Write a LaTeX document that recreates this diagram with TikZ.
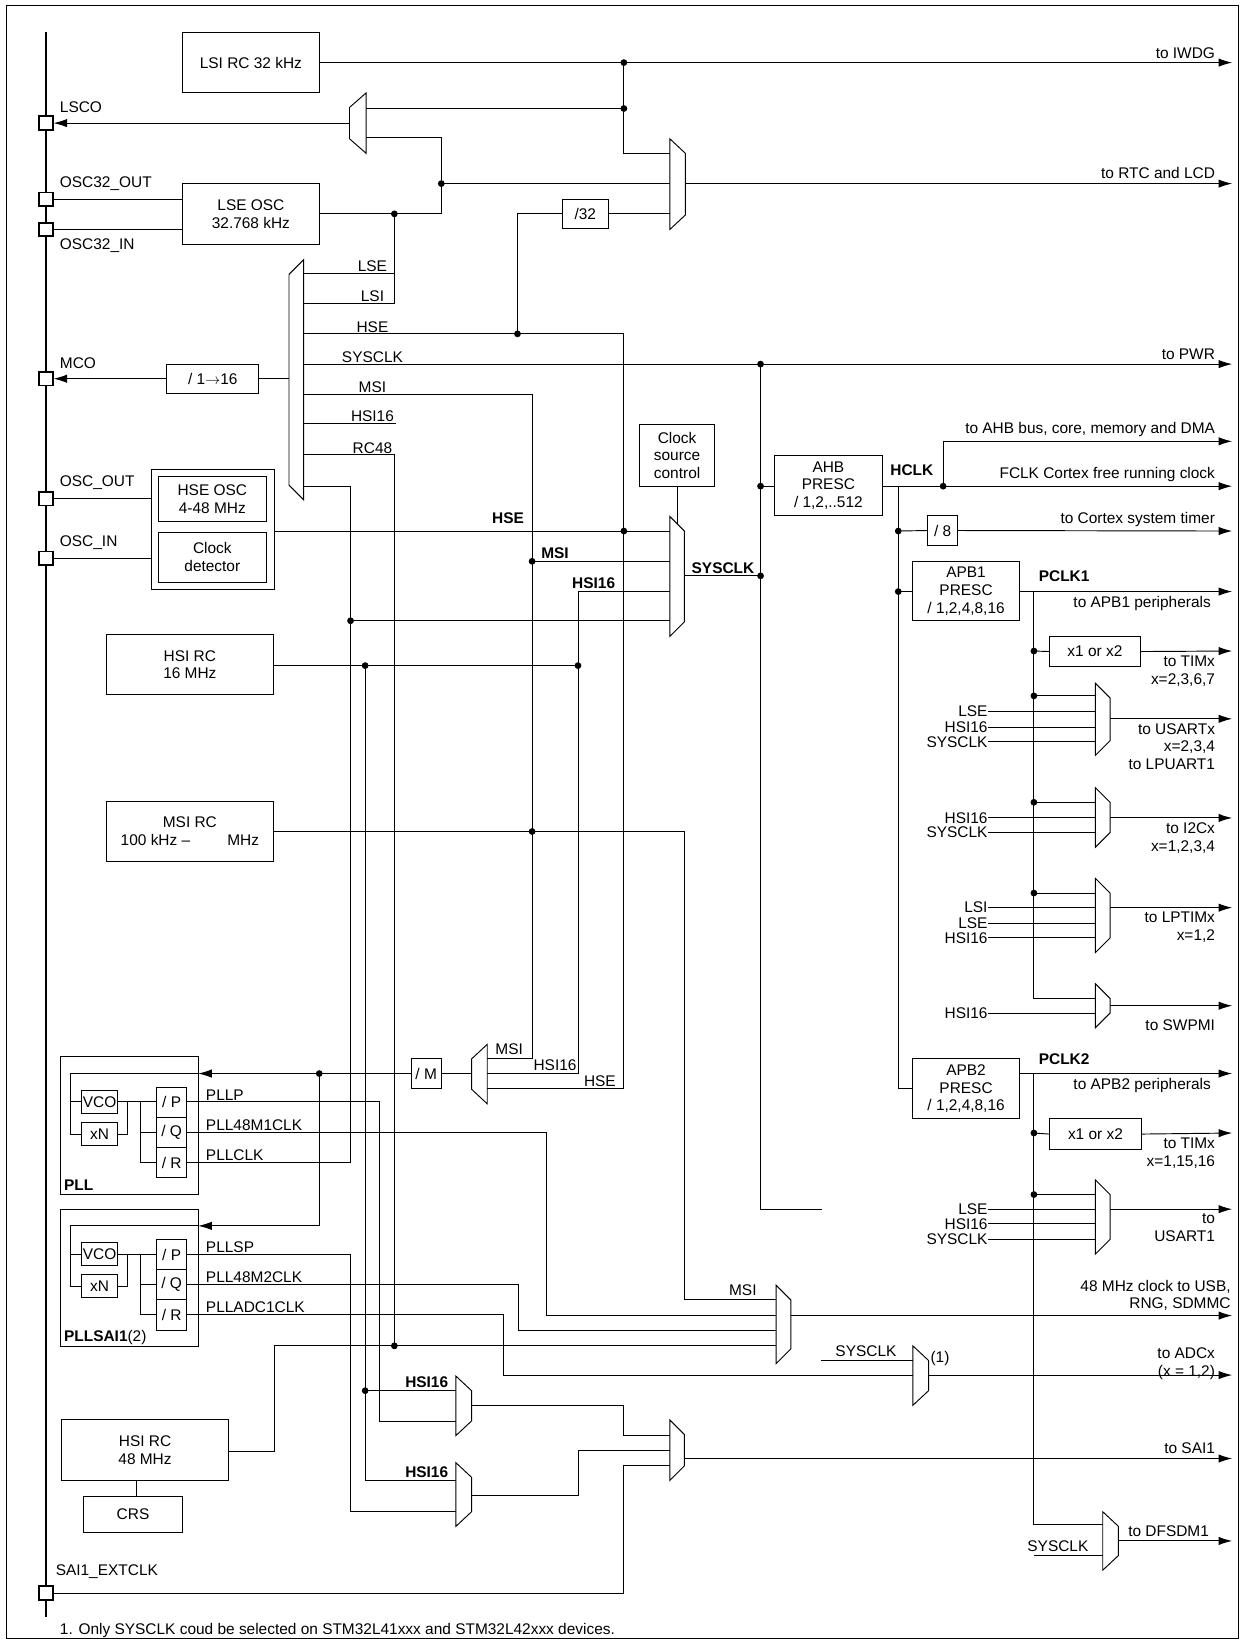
\documentclass[tikz,border=0pt]{standalone}
\usepackage{fontspec}
\setmainfont{Liberation Sans}
\usetikzlibrary{arrows.meta}
\newcommand{\fs}{\fontsize{14.8}{17}\selectfont}
\tikzset{
  blk/.style={draw, align=center, inner sep=0pt},
  lbl/.style={inner sep=1pt, font=\fs},
  bl/.style={inner sep=1pt, font=\fs\bfseries},
  dot/.style={circle, fill, inner sep=0pt, minimum size=6.5pt},
  pin/.style={draw, line width=1.6pt, fill=white, minimum size=13pt, inner sep=0pt},
  arr/.style={-{Latex[length=13pt,width=8pt]}},
}
% box from two corners
\newcommand{\blk}[6]{\node[blk, font=\fs, minimum width={(#4)-(#2)}, minimum height={(#5)-(#3)}] (#1) at ({((#2)+(#4))/2},{((#3)+(#5))/2}) {#6};}
% mux, inputs on the left / on the right
\newcommand{\muxr}[4]{\draw (#1,#3) -- (#2,#3+14) -- (#2,#4-14) -- (#1,#4) -- cycle;}
\newcommand{\muxl}[4]{\draw (#2,#3) -- (#1,#3+14) -- (#1,#4-14) -- (#2,#4) -- cycle;}
\begin{document}
\begin{tikzpicture}[x=1pt, y=-1pt, line width=0.9pt, every node/.style={lbl}]
  \useasboundingbox (0,0) rectangle (1190,1571);
  \draw (6,5) rectangle (1187,1570);
  % Pins
  \draw[line width=2.6pt] (44,31) -- (44,1550);
  \node[pin] (lsco) at (44,118) {};
  \node[pin] (o32out) at (44,191) {};
  \node[pin] (o32in) at (44,220) {};
  \node[pin] (mco) at (44,363) {};
  \node[pin] (oscout) at (44,478) {};
  \node[pin] (oscin) at (44,535) {};
  \node[pin] (extclk) at (44,1527) {};
  \node[anchor=west] at (56,103) {LSCO};
  \node[anchor=west] at (56,176) {OSC32\_OUT};
  \node[anchor=west] at (56,235) {OSC32\_IN};
  \node[anchor=west] at (56,348) {MCO};
  \node[anchor=west] at (56,463) {OSC\_OUT};
  \node[anchor=west] at (56,520) {OSC\_IN};
  \node[anchor=west] at (52,1506) {SAI1\_EXTCLK};
  % Boxes
  \blk{lsi}{175}{31}{306}{89}{LSI RC 32 kHz}
  \blk{lse}{175}{176}{306}{234}{LSE OSC\\32.768 kHz}
  \blk{div32}{539}{191}{583}{219}{/32}
  \blk{mcodiv}{160}{349}{248}{377}{/ 1$\rightarrow$16}
  \draw (145,450) rectangle (263,565);
  \blk{hse}{152}{457}{255}{500}{HSE OSC\\4-48 MHz}
  \blk{ckdet}{152}{510}{255}{558}{Clock\\detector}
  \blk{csc}{613}{407}{685}{466}{Clock\\source\\control}
  \blk{hsi16}{102}{608}{262}{666}{HSI RC\\16 MHz}
  \blk{msi}{102}{768}{262}{826}{MSI RC\\100 kHz --\hspace{2.4em}MHz}
  \blk{divm}{394}{1015}{423}{1043}{/ M}
  \blk{hsi48}{59}{1361}{219}{1419}{HSI RC\\48 MHz}
  \blk{crs}{80}{1434}{175}{1469}{CRS}
  \blk{ahb}{742}{437}{846}{494}{AHB\\PRESC\\/ 1,2,..512}
  \blk{div8}{889}{494}{918}{523}{/ 8}
  \blk{apbone}{875}{538}{977}{595}{APB1\\PRESC\\/ 1,2,4,8,16}
  \blk{timone}{1006}{610}{1093}{639}{x1 or x2}
  \blk{apbtwo}{875}{1015}{977}{1072}{APB2\\PRESC\\/ 1,2,4,8,16}
  \blk{timtwo}{1006}{1072}{1094}{1102}{x1 or x2}
  % PLL blocks
  \foreach \o/\n in {0/pll,146/sai} {
    \draw (58,1013+\o) rectangle (190,1145+\o);
    \blk{\n vco}{78}{1045+\o}{113}{1067+\o}{VCO}
    \blk{\n xn}{78}{1076+\o}{113}{1098+\o}{xN}
    \blk{\n p}{150}{1042+\o}{179}{1071+\o}{/ P}
    \blk{\n q}{150}{1071+\o}{179}{1100+\o}{/ Q}
    \blk{\n r}{150}{1100+\o}{179}{1129+\o}{/ R}
    \draw (190,1029+\o) -- (68,1029+\o) -- (68,1087+\o) -- (78,1087+\o);
    \draw (68,1056+\o) -- (78,1056+\o);
    \draw (113,1056+\o) -- (150,1056+\o);
    \draw (113,1087+\o) -- (122,1087+\o) -- (122,1056+\o);
    \draw (135,1056+\o) -- (135,1114+\o) -- (150,1114+\o);
    \draw (135,1085+\o) -- (150,1085+\o);
  }
  \node[bl, anchor=west] at (60,1136) {PLL};
  \node[anchor=west] at (60,1282) {\textbf{PLLSAI1}(2)};
  % Muxes
  \muxl{335}{351}{89}{147}
  \muxl{277}{291}{249}{479}
  \muxr{642}{657}{133}{220}
  \muxr{642}{656}{495}{610}
  \muxl{452}{467}{1001}{1058}
  \muxr{744}{758}{1232}{1307}
  \muxr{875}{890}{1290}{1347}
  \muxr{437}{452}{1319}{1376}
  \muxr{437}{452}{1402}{1463}
  \muxr{642}{656}{1361}{1419}
  \muxr{1050}{1064}{655}{724}
  \muxr{1050}{1064}{755}{812}
  \muxr{1050}{1064}{842}{913}
  \muxr{1050}{1064}{943}{985}
  \muxr{1050}{1064}{1131}{1202}
  \muxr{1057}{1072}{1449}{1505}
  % LSI / LSE
  \draw[arr] (lsi.east |- 0,60) -- (1181,60);
  \draw (598,60) -- (598,147) -- (642,147);
  \draw (598,104) -- (351,104);
  \draw[arr] (335,118) -- (lsco.east);
  \draw (o32out.east) -- (lse.west |- o32out);
  \draw (o32in.east) -- (lse.west |- o32in);
  \draw (lse.east |- 0,205) -- (423,205) -- (423,132) -- (351,132);
  \draw (423,176) -- (642,176);
  \draw[arr] (657,176) -- (1181,176);
  \draw (378,205) -- (378,291) -- (291,291);
  \draw (378,262) -- (291,262);
  \draw (496,320) -- (496,205) -- (div32.west);
  \draw (div32.east) -- (642,205);
  % MCO mux inputs
  \draw (291,320) -- (598,320) -- (598,1043) -- (467,1043);
  \draw[arr] (291,349) -- (1181,349);
  \draw (729,349) -- (729,1159) -- (788,1159);
  \draw (291,378) -- (510,378) -- (510,1015) -- (467,1015);
  \draw (291,406) -- (380,406);
  \draw (291,436) -- (378,436) -- (378,1290);
  \draw (291,466) -- (336,466) -- (336,1114) -- (179,1114);
  \draw (336,595) -- (642,595);
  \draw (277,363) -- (mcodiv.east);
  \draw[arr] (mcodiv.west) -- (mco.east);
  \foreach \y/\t in {262/LSE,291/LSI,320/HSE,349/SYSCLK,378/MSI,406/HSI16,436/RC48}
    \node[anchor=south] at (357,\y) {\t};
  % HSE / SYSCLK mux
  \draw (oscout.east) -- (145,478);
  \draw (oscin.east) -- (145,535);
  \draw (263,509) -- (642,509);
  \draw (510,538) -- (642,538);
  \draw (hsi16.east |- 0,638) -- (554,638) -- (554,567) -- (642,567);
  \draw (554,638) -- (554,1029) -- (467,1029);
  \draw (350,638) -- (350,1419) -- (437,1419);
  \draw (350,1333) -- (437,1333);
  \draw (656,552) -- (729,552);
  \draw (csc.south -| 649,0) -- (649,502);
  \draw (msi.east |- 0,797) -- (656,797) -- (656,1246) -- (744,1246);
  \node[bl] at (487,497) {HSE};
  \node[bl] at (532,530) {MSI};
  \node[bl] at (569,559) {HSI16};
  \node[bl] at (693,545) {SYSCLK};
  % PLL inputs and outputs
  \draw (452,1029) -- (divm.east);
  \draw[arr] (divm.west) -- (190,1029);
  \draw[arr] (306,1029) -- (306,1175) -- (190,1175);
  \node at (488,1006) {MSI};
  \node at (532,1021) {HSI16};
  \node at (575,1036) {HSE};
  \draw (179,1056) -- (364,1056) -- (364,1362) -- (437,1362);
  \draw (179,1085) -- (524,1085) -- (524,1261) -- (744,1261);
  \draw (179,1202) -- (336,1202) -- (336,1449) -- (437,1449);
  \draw (179,1231) -- (497,1231) -- (497,1275) -- (744,1275);
  \draw (179,1260) -- (483,1260) -- (483,1318) -- (875,1318);
  \foreach \y/\t in {1056/PLLP,1085/PLL48M1CLK,1114/PLLCLK,1202/PLLSP,1231/PLL48M2CLK,1260/PLLADC1CLK}
    \node[anchor=south west] at (196,\y) {\t};
  \draw (hsi48.east |- 0,1391) -- (263,1391) -- (263,1290) -- (744,1290);
  \draw (131,1419) -- (131,1434);
  \node at (712,1237) {MSI};
  \draw[arr] (758,1261) -- (1181,1261);
  \draw (787,1304) -- (875,1304);
  \node at (830,1295) {SYSCLK};
  \node at (901,1302) {(1)};
  \draw[arr] (890,1318) -- (1181,1318);
  % SAI1
  \draw (452,1347) -- (598,1347) -- (598,1376) -- (642,1376);
  \draw (452,1433) -- (554,1433) -- (554,1390) -- (642,1390);
  \draw (extclk.east) -- (598,1527) -- (598,1405) -- (642,1405);
  \draw[arr] (656,1398) -- (1181,1398);
  \node[bl] at (409,1325) {HSI16};
  \node[bl] at (409,1411) {HSI16};
  % AHB / APB
  \draw (729,466) -- (ahb.west |- 0,466);
  \draw[arr] (ahb.east |- 0,466) -- (1181,466);
  \draw[arr] (904,466) -- (904,423) -- (1181,423);
  \draw (861,466) -- (861,1043) -- (apbtwo.west |- 0,1043);
  \draw (861,509) -- (div8.west);
  \draw[arr] (div8.east) -- (1181,509);
  \draw (861,567) -- (apbone.west |- 0,567);
  \draw[arr] (apbone.east |- 0,567) -- (1181,567);
  \draw (991,567) -- (991,957) -- (1050,957);
  \draw (991,624) -- (timone.west);
  \draw[arr] (timone.east) -- (1181,624);
  \foreach \y in {667,769,856} \draw (991,\y) -- (1050,\y);
  \foreach \y/\t in {682/LSE,697/HSI16,711/SYSCLK,784/HSI16,798/SYSCLK,870/LSI,885/LSE,899/HSI16,971/HSI16,1159/LSE,1173/HSI16,1188/SYSCLK}
    \draw (1050,\y) -- (947,\y) node[anchor=east, inner sep=0pt] {\t};
  \draw[arr] (1064,689) -- (1181,689);
  \draw[arr] (1064,784) -- (1181,784);
  \draw[arr] (1064,870) -- (1181,870);
  \draw[arr] (1064,964) -- (1181,964);
  \draw[arr] (apbtwo.east |- 0,1029) -- (1181,1029);
  \draw (991,1029) -- (991,1461) -- (1057,1461);
  \draw (991,1086) -- (timtwo.west);
  \draw[arr] (timtwo.east) -- (1181,1086);
  \draw (991,1145) -- (1050,1145);
  \draw[arr] (1064,1159) -- (1181,1159);
  \draw (991,1491) -- (1057,1491);
  \node at (1014,1482) {SYSCLK};
  \draw[arr] (1072,1477) -- (1181,1477);
  \node[bl] at (874,451) {HCLK};
  \node[bl] at (1020,552) {PCLK1};
  \node[bl] at (1020,1015) {PCLK2};
  % Junctions
  \foreach \p in {(598,60),(598,104),(378,205),(423,176),(496,320),(729,349),(598,509),(510,538),(336,595),(350,638),(554,638),(510,797),(306,1029),(378,1290),(350,1333),(729,466),(729,552),(904,466),(861,509),(861,567),(991,624),(991,667),(991,769),(991,856),(991,1086),(991,1145)}
    \node[dot] at \p {};
  % Output labels
  \node[anchor=south east] at (1166,58) {to IWDG};
  \node[anchor=south east] at (1166,173) {to RTC and LCD};
  \node[anchor=south east] at (1166,346) {to PWR};
  \node[anchor=south east] at (1166,420) {to AHB bus, core, memory and DMA};
  \node[anchor=south east] at (1166,463) {FCLK Cortex free running clock};
  \node[anchor=south east] at (1166,506) {to Cortex system timer};
  \node[anchor=north east] at (1162,570) {to APB1 peripherals};
  \node[anchor=north east, align=right] at (1166,627) {to TIMx\\x=2,3,6,7};
  \node[anchor=north east, align=right] at (1166,692) {to USARTx\\x=2,3,4\\to LPUART1};
  \node[anchor=north east, align=right] at (1166,787) {to I2Cx\\x=1,2,3,4};
  \node[anchor=north east, align=right] at (1166,873) {to LPTIMx\\x=1,2};
  \node[anchor=north east] at (1166,976) {to SWPMI};
  \node[anchor=north east] at (1162,1032) {to APB2 peripherals};
  \node[anchor=north east, align=right] at (1166,1089) {to TIMx\\x=1,15,16};
  \node[anchor=north east, align=right] at (1166,1162) {to\\USART1};
  \node[anchor=south east, align=right] at (1181,1258) {48 MHz clock to USB,\\RNG, SDMMC};
  \node[anchor=south east, align=right] at (1166,1324) {to ADCx\\(x = 1,2)};
  \node[anchor=south east] at (1166,1395) {to SAI1};
  \node[anchor=south west] at (1080,1474) {to DFSDM1};
  % Note
  \node[anchor=west] at (56,1563) {1. Only SYSCLK coud be selected on STM32L41xxx and STM32L42xxx devices.};
\end{tikzpicture}
\end{document}
